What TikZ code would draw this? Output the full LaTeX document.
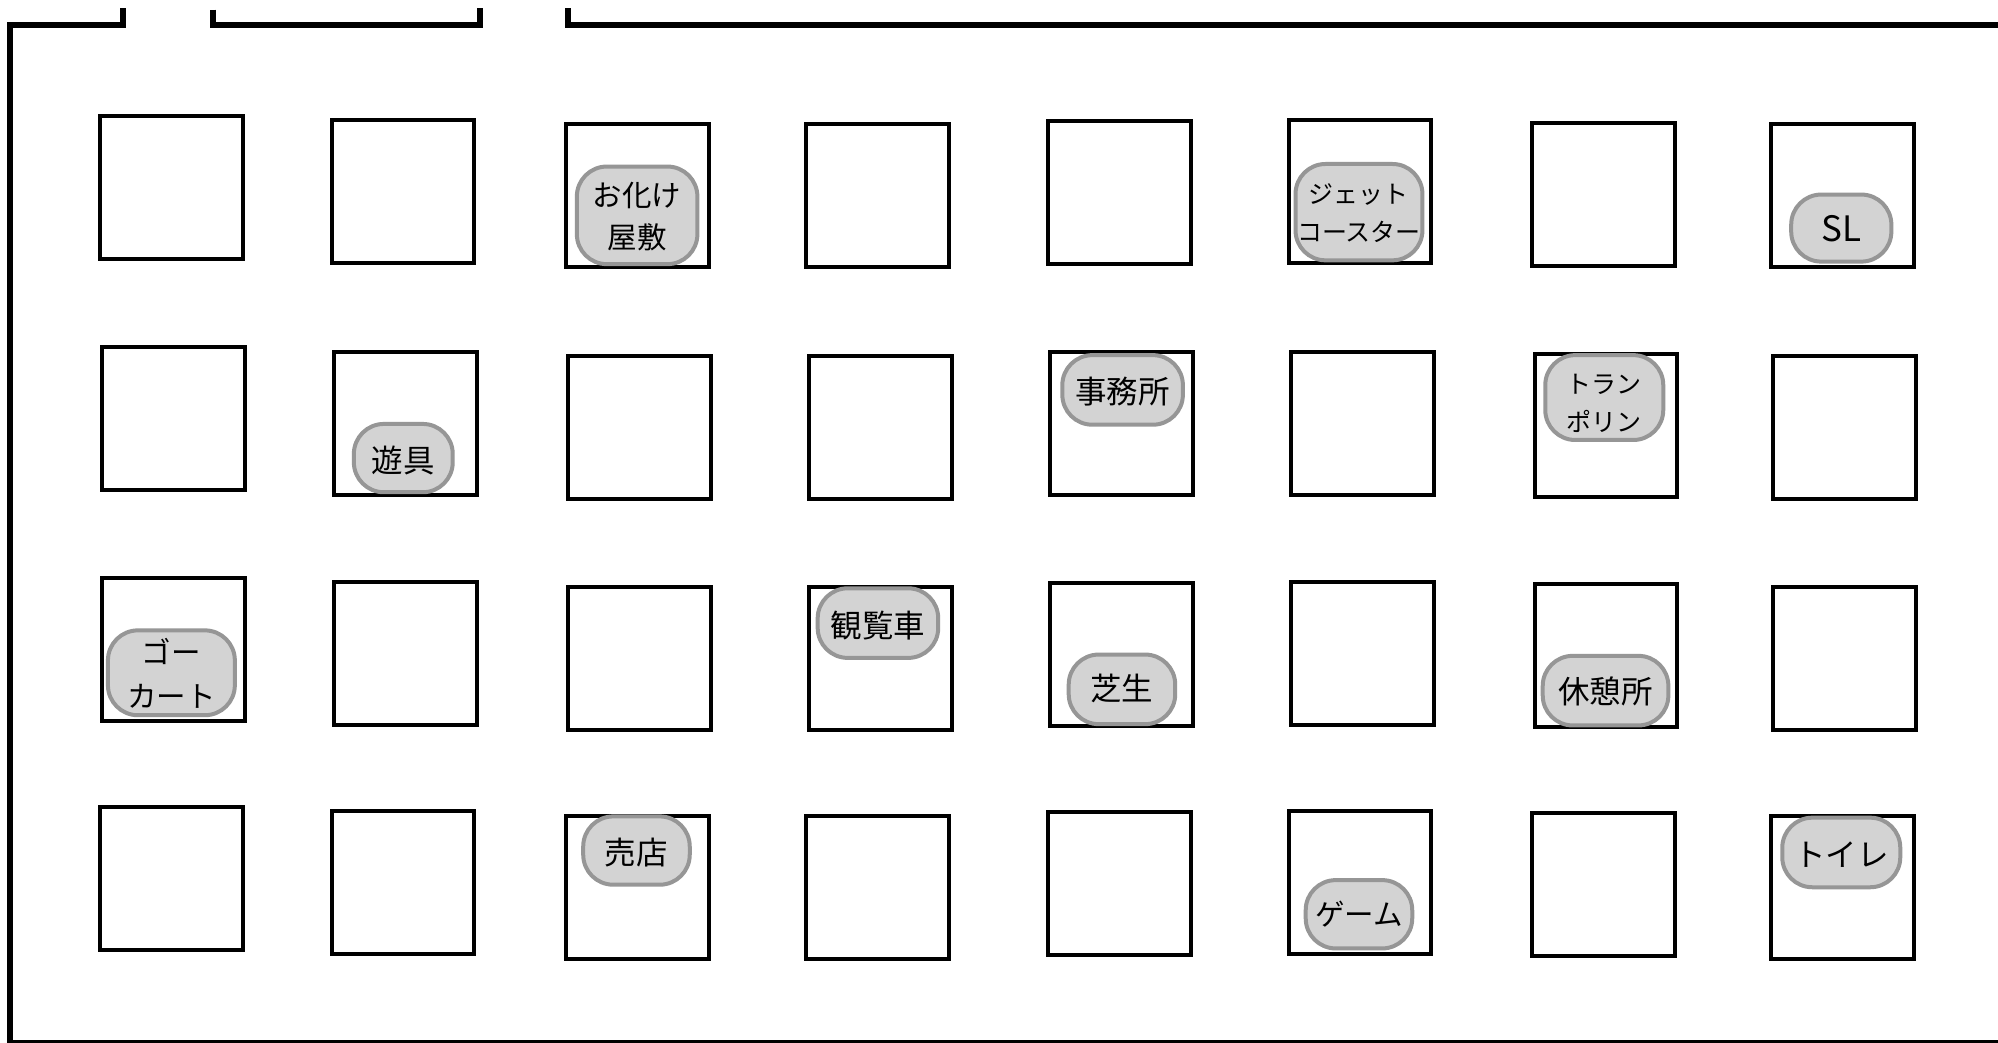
\documentclass[tikz,border=0pt]{standalone}
\usepackage{fontspec}
\setmainfont{Noto Sans CJK JP}
\usetikzlibrary{calc}
\definecolor{ridefill}{HTML}{D3D3D3}
\definecolor{ridedraw}{HTML}{969696}
\tikzset{
  wall/.style={line width=6pt,line cap=butt,miter limit=10},
  plot/.style={draw=black,line width=4pt,fill=white,outer sep=0pt,inner sep=0pt,minimum width=142.6pt,minimum height=143pt,anchor=north west},
  ride/.style={draw=ridedraw,fill=ridefill,line width=4pt,rounded corners=30pt},
  big/.style={font=\fontsize{31.5pt}{44pt}\selectfont},
  kana/.style={font=\fontsize{29.5pt}{44pt}\selectfont},
  small/.style={font=\fontsize{25pt}{38pt}\selectfont},
  mid/.style={font=\fontsize{35pt}{44pt}\selectfont}
}
\newcommand{\plotbox}[3]{\node[plot] (#1) at (#2+0.4,#3+0.4) {};}
\newcommand{\ridebox}[7]{% name, l, r, t, b, style, text
  \path (#2+0.7,#4+0.7) coordinate (#1a) (#3-0.7,#5-0.7) coordinate (#1b);
  \draw[ride] (#1a) rectangle (#1b);
  \node[#6,inner sep=0pt,align=center,text=black,yshift=-2pt] (#1) at ($(#1a)!0.5!(#1b)$) {#7};}
\begin{document}
\begin{tikzpicture}[x=1.27423pt,y=-1.27423pt]
\useasboundingbox (0,0) rectangle (1568,818.5);
\fill[white] (0,0) rectangle (1568,818.5);
\coordinate (w0) at (1568,818.6);
\coordinate (w1) at (8,818.6);
\coordinate (w2) at (8,20);
\coordinate (w3) at (96.6,20);
\coordinate (w4) at (96.6,6.5);
\coordinate (w5) at (167.4,7.5);
\coordinate (w6) at (167.4,20);
\coordinate (w7) at (376.7,20);
\coordinate (w8) at (376.7,6.5);
\coordinate (w9) at (446,6.5);
\coordinate (w10) at (446,20);
\coordinate (w11) at (1568,20);
\draw[wall] (w0) -- (w1) -- (w2) -- (w3) -- (w4);
\draw[wall] (w5) -- (w6) -- (w7) -- (w8);
\draw[wall] (w9) -- (w10) -- (w11);
% row 1
\plotbox{a1}{78}{91}\plotbox{a2}{260}{94}\plotbox{a3}{444}{97}\plotbox{a4}{632.5}{97}
\plotbox{a5}{822}{94.5}\plotbox{a6}{1011}{94}\plotbox{a7}{1202}{96}\plotbox{a8}{1389.5}{97}
% row 2
\plotbox{b1}{80}{272}\plotbox{b2}{262}{275.5}\plotbox{b3}{445.5}{279}\plotbox{b4}{634.5}{279}
\plotbox{b5}{824}{276}\plotbox{b6}{1013}{275.5}\plotbox{b7}{1204}{277.5}\plotbox{b8}{1391}{279}
% row 3
\plotbox{c1}{80}{453}\plotbox{c2}{262}{456}\plotbox{c3}{445.5}{460}\plotbox{c4}{634.5}{460}
\plotbox{c5}{824}{457}\plotbox{c6}{1013}{456}\plotbox{c7}{1204}{458}\plotbox{c8}{1391}{460}
% row 4
\plotbox{d1}{78}{633}\plotbox{d2}{260}{636}\plotbox{d3}{444}{640}\plotbox{d4}{632.5}{640}
\plotbox{d5}{822}{637}\plotbox{d6}{1011}{636}\plotbox{d7}{1202}{638}\plotbox{d8}{1389.5}{640}
% rides
\ridebox{obake}{452}{548}{130}{208}{kana,yshift=1pt,font=\fontsize{29.5pt}{42pt}\selectfont}{お化け\\屋敷}
\ridebox{jet}{1016}{1117}{128}{205}{small,yshift=1pt}{ジェット\\コースター}
\ridebox{sl}{1405}{1485}{152}{206}{mid,yshift=1pt}{SL}
\ridebox{yugu}{277}{356}{332}{387}{big}{遊具}
\ridebox{jimu}{833}{929}{278}{334}{big}{事務所}
\ridebox{tramp}{1212}{1306}{278}{346}{small,yshift=-4pt}{トラン\\ポリン}
\ridebox{gokart}{84}{185}{494}{562}{kana,yshift=1.5pt}{ゴー\\カート}
\ridebox{kanran}{641}{737}{461}{517}{big}{観覧車}
\ridebox{shiba}{838}{923}{513}{569}{big,yshift=2.5pt}{芝生}
\ridebox{kyukei}{1210}{1310}{514}{570}{big,yshift=1pt}{休憩所}
\ridebox{baiten}{457}{542}{640}{695}{big}{売店}
\ridebox{game}{1024}{1109}{690}{745}{kana,yshift=2.5pt}{ゲーム}
\ridebox{toilet}{1398}{1492}{641}{697}{big}{トイレ}
\end{tikzpicture}
\end{document}
